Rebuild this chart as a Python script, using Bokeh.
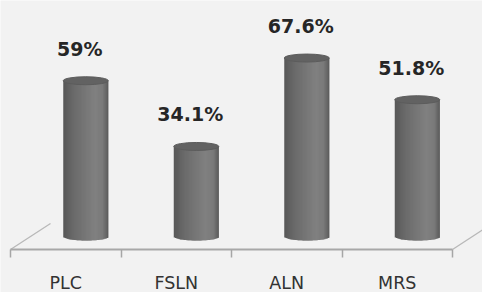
import numpy as np
from bokeh.plotting import figure
from bokeh.models import Range1d, LinearAxis, FixedTicker, ColumnDataSource
from bokeh.core.properties import value
from bokeh.embed import file_html
from bokeh.resources import INLINE

# ---- data ----
categories = ["PLC", "FSLN", "ALN", "MRS"]
values = [59.0, 34.1, 67.6, 51.8]
value_labels = ["59%", "34.1%", "67.6%", "51.8%"]

# ---- styling / geometry constants ----
BG = "#f2f2f2"
W, H = 482, 292
PX_X = 110.5          # pixels per category
PX_Y = 2.64           # pixels per percent
DX = 40 / PX_X        # depth offset (category units)
DY = 26 / PX_Y        # depth offset (percent units)
floor_y = -13 / PX_Y
HW = 22.5 / PX_X      # half bar width
EB = 4.0 / PX_Y       # ellipse half height in data units
N_STRIPS = 36

x0 = -10 / PX_X
x_range = Range1d(x0, x0 + W / PX_X)
y_top = 236 / PX_Y
y_range = Range1d(y_top - H / PX_Y, y_top)

p = figure(width=W, height=H, x_range=x_range, y_range=y_range,
           output_backend="svg", toolbar_location=None,
           x_axis_location=None, y_axis_location=None, min_border=0,
           background_fill_color=BG, border_fill_color=BG,
           outline_line_color=None)
p.grid.visible = False

n = len(categories)

# floor diagonals
p.segment(x0=[0, n], y0=[floor_y, floor_y], x1=[DX, n + DX], y1=[floor_y + DY, floor_y + DY],
          line_color="#b8b8b8", line_width=1.3)

# x axis at floor front edge
ax = LinearAxis(fixed_location=floor_y, bounds=(0, n))
ax.ticker = FixedTicker(ticks=[i + 0.5 for i in range(n)], minor_ticks=list(range(n + 1)))
ax.major_label_overrides = {i + 0.5: c for i, c in enumerate(categories)}
ax.major_tick_line_color = None
ax.major_tick_out = 8
ax.major_tick_in = 0
ax.minor_tick_out = 8
ax.minor_tick_in = 0
ax.minor_tick_line_color = "#a6a6a6"
ax.minor_tick_line_width = 1.5
ax.axis_line_color = "#a8a8a8"
ax.axis_line_width = 2
ax.major_label_text_font = "DejaVu Sans"
ax.major_label_text_font_size = "17.5px"
ax.major_label_text_color = "#333333"
ax.major_label_standoff = 15
p.add_layout(ax, "below")

# cylinder body strips (gradient)
stops_u = [-1.0, -0.5, 0.0, 0.4, 0.75, 1.0]
stops_c = [0x58, 0x6b, 0x77, 0x80, 0x7a, 0x5a]

lefts, rights, bottoms, tops, colors = [], [], [], [], []
cxs = [i + 0.5 + DX / 2 for i in range(n)]
sw = 2 * HW / N_STRIPS
for cx, v in zip(cxs, values):
    for k in range(N_STRIPS):
        u = -1 + (2 * k + 1) / N_STRIPS
        g = int(round(np.interp(u, stops_u, stops_c)))
        lefts.append(cx - HW + k * sw)
        rights.append(cx - HW + (k + 1) * sw + (sw if k < N_STRIPS - 1 else 0))
        bottoms.append(-EB * np.sqrt(max(0.0, 1 - u * u)))
        tops.append(v)
        colors.append("#%02x%02x%02x" % (g, g, g))

src = ColumnDataSource(dict(left=lefts, right=rights, bottom=bottoms, top=tops, color=colors))
p.quad(left="left", right="right", bottom="bottom", top="top", source=src,
       fill_color="color", line_color=None)

# top ellipses
p.ellipse(x=cxs, y=values, width=45, height=8, width_units="screen", height_units="screen",
          fill_color="#626262", line_color="#5c5c5c", line_width=1)

# value labels
p.text(x=cxs, y=values, text=value_labels, text_align="center", text_baseline="middle",
       x_offset=-6, y_offset=-32,
       text_font=value("DejaVu Sans"), text_font_style="bold",
       text_font_size=value("19px"), text_color="#262626")

open("out.html", "w").write(file_html(p, INLINE))
